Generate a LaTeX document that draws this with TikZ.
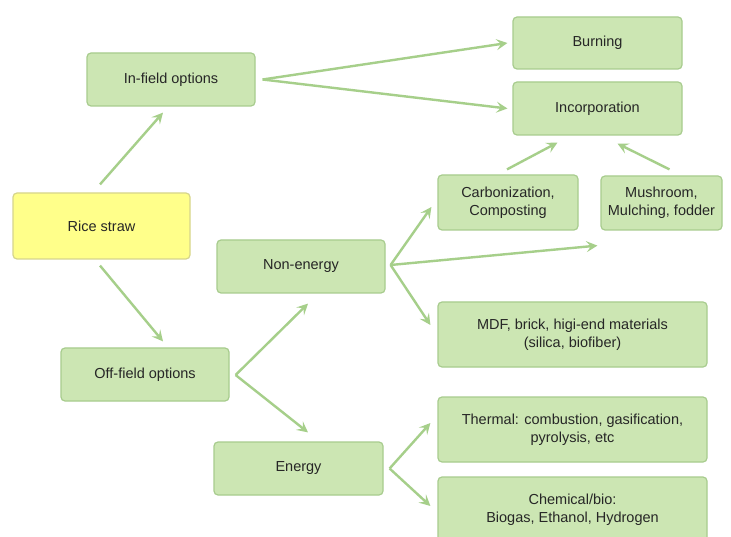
\documentclass[tikz,border=0pt]{standalone}
\usepackage{fontspec}
\setmainfont{Liberation Sans}
\usetikzlibrary{arrows.meta,calc}
\definecolor{boxfill}{HTML}{CCE6B3}
\definecolor{boxline}{HTML}{A8CC8E}
\definecolor{arrcol}{HTML}{A6CF8A}
\definecolor{ricefill}{HTML}{FFFF8A}
\definecolor{riceline}{HTML}{D6D58C}
\definecolor{txt}{HTML}{262626}
\begin{document}
\begin{tikzpicture}[x=1pt,y=-1pt,
  box/.style={draw=boxline,fill=boxfill,line width=1.2pt,rounded corners=4pt,
    inner sep=0pt,align=center,text=txt,font=\fontsize{14.5}{18}\selectfont},
  ricebox/.style={box,draw=riceline,fill=ricefill},
  arr/.style={draw=arrcol,line width=2.4pt,-{Stealth[length=11pt,width=11pt,inset=4.5pt]}}]
\clip (0,0) rectangle (731,537);
\fill[white] (0,0) rectangle (731,537);
\node[box,minimum width=168pt,minimum height=53pt] (inf) at (171,79.5) {In-field options};
\node[ricebox,minimum width=177pt,minimum height=66pt] (rice) at (101.5,226) {Rice straw};
\node[box,minimum width=168pt,minimum height=53pt] (nonen) at (301,266.5) {Non-energy};
\node[box,minimum width=168pt,minimum height=53pt] (off) at (145,374.5) {Off-field options};
\node[box,minimum width=169pt,minimum height=53pt] (energy) at (298.5,468.5) {Energy};
\node[box,minimum width=169pt,minimum height=52pt] (burn) at (597.5,43) {Burning};
\node[box,minimum width=169pt,minimum height=53pt] (incorp) at (597.5,108.5) {Incorporation};
\node[box,minimum width=140pt,minimum height=55pt] (carb) at (508,202.5) {Carbonization,\\Composting};
\node[box,minimum width=121pt,minimum height=54pt] (mush) at (661.5,203) {Mushroom,\\Mulching, fodder};
\node[box,minimum width=269pt,minimum height=65pt] (mdf) at (572.5,334.5) {MDF, brick, higi-end materials\\(silica, biofiber)};
\node[box,minimum width=269pt,minimum height=65pt] (thermal) at (572.5,429.5) {Thermal: combustion, gasification,\\pyrolysis, etc};
\node[box,minimum width=269pt,minimum height=65pt] (chem) at (572.5,509.5) {Chemical/bio:\\Biogas, Ethanol, Hydrogen};
\draw[arr] ($(rice.north)+(-1.5,-8)$) -- ($(inf.south)+(-8,6)$);
\draw[arr] ($(rice.south)+(-1.5,6)$) -- ($(off.north)+(18,-6)$);
\draw[arr] ($(inf.east)+(7,0)$) -- ($(burn.west)+(-5,0)$);
\draw[arr] ($(inf.east)+(7,0)$) -- ($(incorp.west)+(-5,0)$);
\draw[arr] ($(carb.north)+(-1,-5)$) -- ($(incorp.south)+(-40,7)$);
\draw[arr] ($(mush.north)+(8,-6)$) -- ($(incorp.south)+(20,8)$);
\draw[arr] ($(nonen.east)+(5,-1.5)$) -- ($(carb.west)+(-6,4.5)$);
\draw[arr] ($(nonen.east)+(5,-1.5)$) -- ($(mush.south west)+(-3,15)$);
\draw[arr] ($(nonen.east)+(5,-1.5)$) -- ($(mdf.west)+(-7,-9.5)$);
\draw[arr] ($(off.east)+(6,0.5)$) -- ($(nonen.south)+(7,10)$);
\draw[arr] ($(off.east)+(6,0.5)$) -- ($(energy.north)+(9.5,-9)$);
\draw[arr] ($(energy.east)+(6,0)$) -- ($(thermal.west)+(-7,-6.5)$);
\draw[arr] ($(energy.east)+(6,0)$) -- ($(chem.west)+(-7,-3.5)$);
\end{tikzpicture}
\end{document}
